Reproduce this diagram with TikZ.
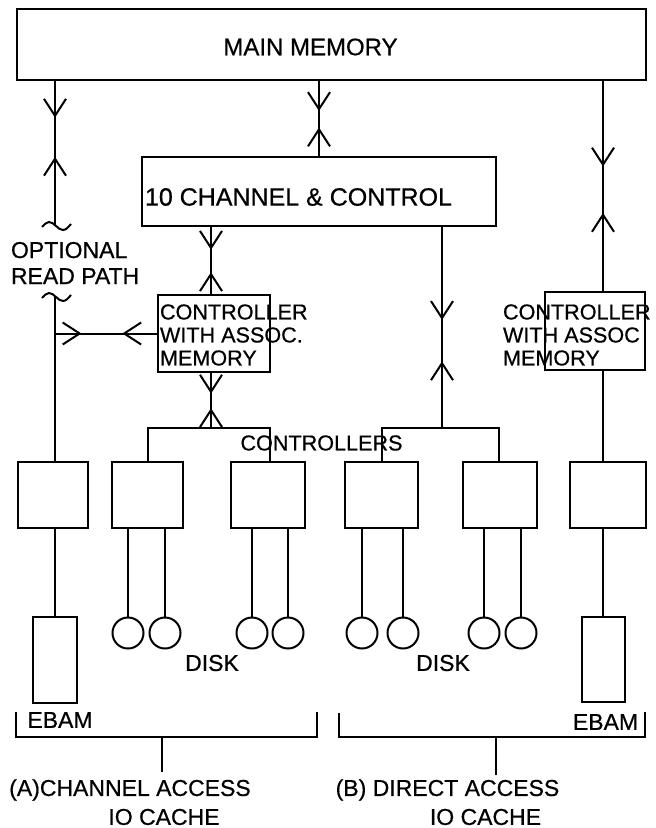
\documentclass[tikz,border=0pt]{standalone}
\usepackage{fontspec}
\setmainfont{Liberation Sans}[FakeBold=0.6]
\usetikzlibrary{arrows.meta,decorations.markings}

\tikzset{
  barb/.tip={Straight Barb[length=8.5pt,width=11pt]},
  box/.style={draw, inner sep=0pt},
  disk/.style={draw, circle, minimum size=15.5pt, inner sep=0pt},
  lbl/.style={inner sep=0pt, font=\fontsize{11.5}{13}\selectfont},
  small/.style={lbl, font=\fontsize{10.8}{11.5}\selectfont},
  fwd/.style={postaction={decorate, decoration={markings, mark=at position #1 with {\arrow{barb}}}}},
  bwd/.style={postaction={decorate, decoration={markings, mark=at position #1 with {\arrowreversed{barb}}}}},
}

\begin{document}
\begin{tikzpicture}[x=0.5pt, y=-0.5pt, line width=1pt]
  \useasboundingbox (0,0) rectangle (656,828);

  % memory and channel
  \node[box, minimum width=314.5pt, minimum height=35.5pt] (mem) at (331.5,44.5) {};
  \node[lbl, font=\fontsize{12}{14}\selectfont] (memtxt) at (310.5,47) {MAIN MEMORY};
  \node[box, minimum width=177pt, minimum height=34.5pt] (io) at (319,191.5) {};
  \node[lbl, anchor=west, font=\fontsize{12.5}{14}\selectfont] (iotxt) at (144,197) {10 CHANNEL \& CONTROL};

  % controllers with associative memory
  \node[box, minimum width=56pt, minimum height=38.5pt] (cA) at (214,333.5) {};
  \node[small, anchor=west, align=left] (cAtxt) at (159,335) {CONTROLLER\\WITH ASSOC.\\MEMORY};
  \node[box, minimum width=50pt, minimum height=39pt] (cB) at (595,331) {};
  \node[small, anchor=west, align=left] (cBtxt) at (502,335) {CONTROLLER\\WITH ASSOC\\MEMORY};

  % lower controllers
  \node[box, minimum width=35pt, minimum height=33pt] (kA) at (53,495) {};
  \node[box, minimum width=35.5pt, minimum height=33pt] (kB) at (147.5,495) {};
  \node[box, minimum width=37pt, minimum height=33pt] (kC) at (268,495) {};
  \node[box, minimum width=36.5pt, minimum height=33pt] (kD) at (381.5,495) {};
  \node[box, minimum width=37pt, minimum height=33pt] (kE) at (500,495) {};
  \node[box, minimum width=38pt, minimum height=33pt] (kF) at (608,495) {};
  \node[small] (ctltxt) at (321.5,443) {CONTROLLERS};

  % ebam and disks
  \node[box, minimum width=22pt, minimum height=43pt] (eA) at (55,660) {};
  \node[box, minimum width=21.5pt, minimum height=42.5pt] (eB) at (603.5,659.5) {};
  \node[disk] (d1) at (128,633) {};
  \node[disk] (d2) at (165,633) {};
  \node[disk] (d3) at (252,633) {};
  \node[disk] (d4) at (288,633) {};
  \node[disk] (d5) at (362,633) {};
  \node[disk] (d6) at (403,633) {};
  \node[disk] (d7) at (484,633) {};
  \node[disk] (d8) at (521,633) {};
  \node[lbl] (dA) at (212,663) {DISK};
  \node[lbl] (dB) at (443,663) {DISK};
  \node[lbl] (ebA) at (60,720) {EBAM};
  \node[lbl] (ebB) at (605.5,722) {EBAM};

  \node[lbl, anchor=west, align=left] (opt) at (10,263) {OPTIONAL\\READ PATH};
  \node[lbl] (labA1) at (130,790) {(A)CHANNEL ACCESS};
  \node[lbl] (labA2) at (164,817) {IO CACHE};
  \node[lbl] (labB1) at (447.5,790) {(B) DIRECT ACCESS};
  \node[lbl] (labB2) at (485.5,817) {IO CACHE};

  \coordinate (mL) at (55,80);
  \coordinate (mR) at (603,80);
  \coordinate (tt) at (55,225);
  \coordinate (tb) at (55,296);
  \coordinate (ioL) at (211,226);
  \coordinate (ioR) at (442,226);
  \coordinate (busL) at (270,428);
  \coordinate (busR) at (499,428);

  % paths to main memory
  \draw[fwd=0.26, bwd=0.53] (mL) -- (tt);
  \draw (tt) ++(-13,2) sin ++(7,-5) cos ++(7,4) sin ++(7,4) cos ++(8,-6);
  \draw (tb) ++(-13,2) sin ++(7,-5) cos ++(7,4) sin ++(7,4) cos ++(8,-6);
  \draw (tb) -- (tb |- kA.north);
  \draw[fwd=0.26, bwd=0.66] (tb |- cA.west) -- (cA.west);
  \draw[fwd=0.4, bwd=0.62] (mem.south -| io.north) -- (io.north);
  \draw[fwd=0.41, bwd=0.63] (mR) -- (mR |- cB.north);
  \draw (mR |- cB.south) -- (mR |- kF.north);

  % channel to controllers
  \draw[fwd=0.35, bwd=0.68] (ioL) -- (ioL |- cA.north);
  \draw[fwd=0.375, bwd=0.64] (ioL |- cA.south) -- (ioL |- busL);
  \draw (kB.north) |- (busL) -- (busL |- kC.north);
  \draw[fwd=0.465, bwd=0.67] (ioR) -- (ioR |- busR);
  \draw (kD.north) |- (busR) -- (busR |- kE.north);

  % devices
  \draw (eA.north |- kA.south) -- (eA.north);
  \draw (mR |- kF.south) -- (mR |- eB.north);
  \foreach \d/\k in {d1/kB, d2/kB, d3/kC, d4/kC, d5/kD, d6/kD, d7/kE, d8/kE}
    \draw (\d.north |- \k.south) -- (\d.north);

  % groupings
  \coordinate (gA1) at (16,712);
  \coordinate (gA2) at (317,712);
  \coordinate (stA) at (162,737);
  \coordinate (enA) at (162,772);
  \coordinate (gB1) at (339,713);
  \coordinate (gB2) at (645,712);
  \coordinate (stB) at (496,737);
  \coordinate (enB) at (496,775);
  \draw (gA1) |- (stA) -| (gA2);
  \draw (stA) -- (enA);
  \draw (gB1) |- (stB) -| (gB2);
  \draw (stB) -- (enB);
\end{tikzpicture}
\end{document}
